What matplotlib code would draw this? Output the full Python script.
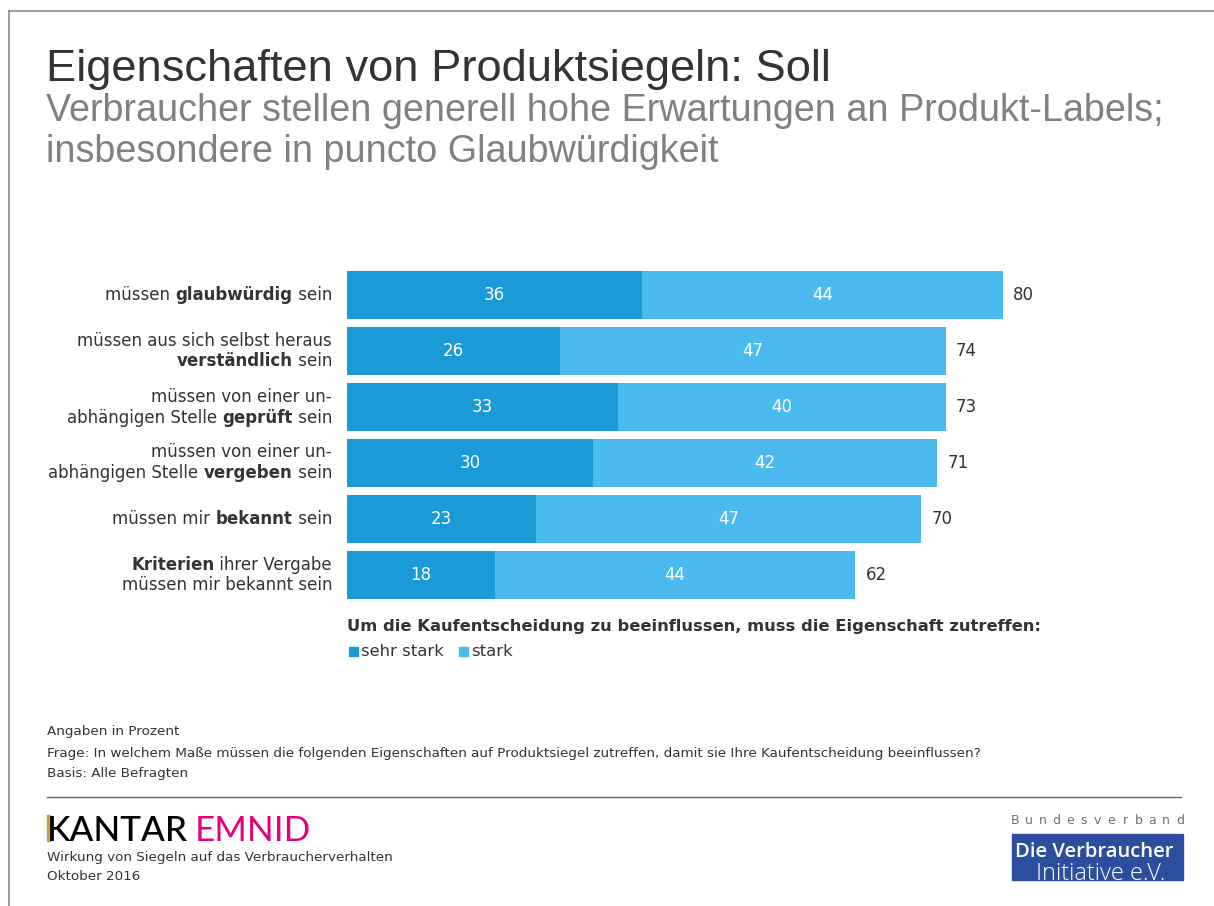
import matplotlib
matplotlib.use("Agg")
import matplotlib.pyplot as plt
from matplotlib.patches import Rectangle
from matplotlib.lines import Line2D

W, H = 1214, 906

# data
labels = [
    [[("müssen ", False), ("glaubwürdig", True), (" sein", False)]],
    [[("müssen aus sich selbst heraus", False)],
     [("verständlich", True), (" sein", False)]],
    [[("müssen von einer un-", False)],
     [("abhängigen Stelle ", False), ("geprüft", True), (" sein", False)]],
    [[("müssen von einer un-", False)],
     [("abhängigen Stelle ", False), ("vergeben", True), (" sein", False)]],
    [[("müssen mir ", False), ("bekannt", True), (" sein", False)]],
    [[("Kriterien", True), (" ihrer Vergabe", False)],
     [("müssen mir bekannt sein", False)]],
]
sehr_stark = [36, 26, 33, 30, 23, 18]
stark = [44, 47, 40, 42, 47, 44]
totals = [80, 74, 73, 71, 70, 62]
series_names = ["sehr stark", "stark"]

C_DARK = "#1A9AD7"
C_LIGHT = "#4BBAEE"
TXT = "#333333"
GREY = "#808080"
BODY = "DejaVu Sans"
HEAD = "Liberation Sans"


def px(x, y):
    return x / W, 1 - y / H


fig = plt.figure(figsize=(W / 100, H / 100), dpi=100)
fig.patch.set_facecolor("white")

# frame lines (top and left)
fig.add_artist(Line2D([9 / W, 1], [1 - 11 / H] * 2, color="#8c8c8c", lw=1.2))
fig.add_artist(Line2D([9 / W] * 2, [0, 1 - 11 / H], color="#8c8c8c", lw=1.2))

# titles
fig.text(*px(46, 81), "Eigenschaften von Produktsiegeln: Soll", family=HEAD,
         fontsize=32.6, color=TXT, va="baseline")
fig.text(*px(46, 121), "Verbraucher stellen generell hohe Erwartungen an Produkt-Labels;",
         family=HEAD, fontsize=27.2, color=GREY, va="baseline")
fig.text(*px(46, 162), "insbesondere in puncto Glaubwürdigkeit",
         family=HEAD, fontsize=27.2, color=GREY, va="baseline")

# bar axes: 8.2 px per percentage point starting at x=347
unit = 8.2
top, bottom = 267, 603
ax = fig.add_axes([347 / W, 1 - bottom / H, 100 * unit / W, (bottom - top) / H])
ax.set_xlim(0, 100)
ax.set_ylim(len(sehr_stark) - 0.5, -0.5)
ax.axis("off")

ypos = list(range(len(sehr_stark)))
bh = 0.84
ax.barh(ypos, sehr_stark, height=bh, color=C_DARK, edgecolor="none")
ax.barh(ypos, stark, left=sehr_stark, height=bh, color=C_LIGHT, edgecolor="none")
for i in ypos:
    ax.text(sehr_stark[i] / 2, i, str(sehr_stark[i]), ha="center", va="center",
            color="white", fontsize=12, family=BODY)
    ax.text(sehr_stark[i] + stark[i] / 2, i, str(stark[i]), ha="center", va="center",
            color="white", fontsize=12, family=BODY)
    ax.text(sehr_stark[i] + stark[i] + 1.25, i, str(totals[i]), ha="left", va="center",
            color=TXT, fontsize=12, family=BODY)

fig.canvas.draw()
renderer = fig.canvas.get_renderer()


def rich_line(x_right, y, segs, size=12):
    # right aligned line built from plain and bold pieces
    x = x_right
    for txt, bold in reversed(segs):
        t = fig.text(*px(x, y), txt, ha="right", va="center", fontsize=size,
                     family=BODY, color=TXT, weight="bold" if bold else "normal")
        bb = t.get_window_extent(renderer)
        x -= bb.width


for i, lines in enumerate(labels):
    yc = 295 + 56 * i
    n = len(lines)
    for k, segs in enumerate(lines):
        y = yc + (k - (n - 1) / 2) * 21
        rich_line(332, y, segs)

# legend
fig.text(*px(347, 627), "Um die Kaufentscheidung zu beeinflussen, muss die Eigenschaft zutreffen:",
         fontsize=11.8, weight="bold", family=BODY, color=TXT, va="center")
lx = 349
for name, col in zip(series_names, [C_DARK, C_LIGHT]):
    fig.add_artist(Rectangle(px(lx, 656), 9 / W, 9 / H, color=col, transform=fig.transFigure))
    t = fig.text(*px(lx + 12, 651), name, fontsize=11.8, family=BODY, color=TXT, va="center")
    lx = lx + 12 + t.get_window_extent(renderer).width + 15

# notes
notes = ["Angaben in Prozent",
         "Frage: In welchem Maße müssen die folgenden Eigenschaften auf Produktsiegel zutreffen, damit sie Ihre Kaufentscheidung beeinflussen?",
         "Basis: Alle Befragten"]
for k, n in enumerate(notes):
    fig.text(*px(47, 732 + 21 * k), n, fontsize=9.7, family=BODY, color=TXT, va="center")

fig.add_artist(Line2D([47 / W, 1181 / W], [1 - 797 / H] * 2, color="#666666", lw=1))

# Kantar Emnid logo
fig.add_artist(Rectangle(px(47, 841), 2.5 / W, 26 / H, color="#C9A227", transform=fig.transFigure))
t = fig.text(*px(47, 841), "KANTAR", family="Lato", fontsize=25.2, color="black",
             va="baseline", weight="medium")
xe = 47 + t.get_window_extent(renderer).width + 7
fig.text(*px(xe, 841), "EMNID", family="Lato", fontsize=25.2, color="#E6007E", va="baseline")
fig.text(*px(47, 857), "Wirkung von Siegeln auf das Verbraucherverhalten",
         fontsize=9.7, family=BODY, color=TXT, va="center")
fig.text(*px(47, 876), "Oktober 2016", fontsize=9.7, family=BODY, color=TXT, va="center")

# Verbraucher Initiative logo
word = "Bundesverband"
for k, ch in enumerate(word):
    x = 1015 + k * (1180 - 1015) / (len(word) - 1)
    fig.text(*px(x, 821), ch, fontsize=9, family=BODY, color="#707070",
             ha="center", va="center")
fig.add_artist(Rectangle(px(1012, 880), 171 / W, 46 / H, color="#2D4E9E", transform=fig.transFigure))
fig.text(*px(1015, 852), "Die Verbraucher", fontsize=14.5, family="Open Sans", weight="semibold",
         color="white", va="center")
fig.text(*px(1036, 874), "Initiative e.V.", fontsize=17, family="Open Sans", weight="light",
         color="white", va="center")

fig.savefig("out.png", dpi=100)
